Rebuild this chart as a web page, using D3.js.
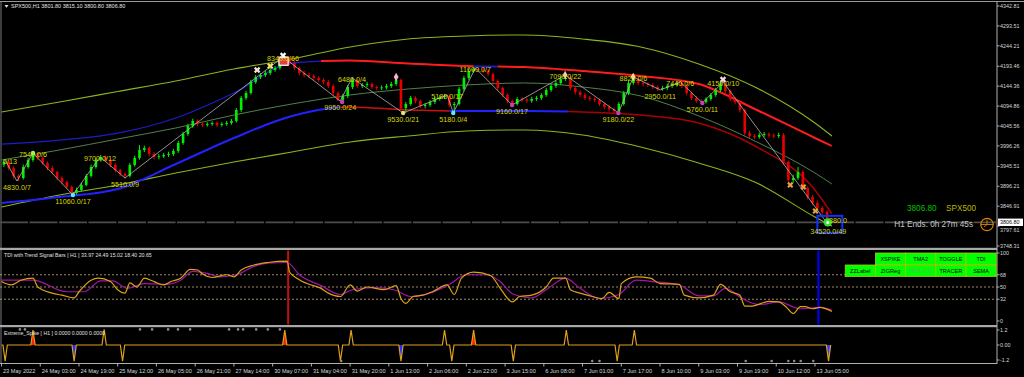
<!DOCTYPE html>
<html><head><meta charset="utf-8">
<script src="https://cdn.jsdelivr.net/npm/d3@7"></script>
<style>body{margin:0;background:#000;overflow:hidden}svg{display:block}text{font-family:"Liberation Sans",Arial,sans-serif}</style>
</head><body><svg id="c" width="1024" height="377"></svg>
<script>
// ---------- DATA ----------
const symbolTitle = "SPX500,H1  3801.80 3815.10 3800.80 3806.80";
const tdiTitle = "TDI with Trend Signal Bars [ H1 ] 33.97 24.49 15.02 18.40 20.65";
const spikeTitle = "Extreme_Spike [ H1 ] 0.0000 0.0000 0.0000";
const lastPrice = 3806.80;
const firstOpen = 3950;
// 2-hour candles (index k sits at hour 2k+1)
const closes = [3956.4,3941.6,3921.8,3916.8,3944.0,3961.4,3976.2,3966.3,3954.0,3941.6,
3931.7,3916.8,3906.9,3894.5,3879.6,3887.1,3899.5,3921.8,3944.0,3961.4,
3968.8,3961.4,3949.0,3936.6,3926.7,3921.8,3949.0,3966.3,3986.2,3991.1,
3976.2,3968.8,3970.5,3973.8,3976.2,3983.7,4003.5,4025.8,4045.6,4058.0,
4050.6,4048.1,4050.6,4053.0,4048.1,4050.6,4053.0,4058.0,4085.2,4115.0,
4127.3,4154.6,4167.0,4171.9,4176.9,4184.3,4189.3,4204.1,4214.0,4201.6,
4189.3,4176.9,4171.9,4169.4,4164.5,4159.5,4154.6,4144.7,4127.3,4110.0,
4119.9,4142.2,4159.5,4144.7,4147.0,4149.5,4142.2,4139.7,4141.0,4144.7,
4149.6,4159.5,4090.2,4100.1,4115.0,4107.5,4095.1,4097.6,4105.0,4112.5,
4117.4,4119.9,4097.6,4100.1,4137.2,4164.5,4181.8,4186.8,4184.3,4182.0,
4174.4,4157.1,4139.7,4122.4,4107.5,4100.1,4112.5,4110.8,4108.0,4112.5,
4115.0,4122.4,4134.8,4144.7,4152.1,4162.0,4164.5,4139.7,4129.8,4122.4,
4115.0,4112.5,4110.0,4100.1,4092.7,4087.7,4082.8,4100.1,4127.3,4152.1,
4162.0,4152.1,4149.6,4147.2,4142.2,4137.2,4139.7,4144.7,4147.2,4152.1,
4144.7,4127.3,4115.0,4107.5,4105.0,4112.5,4122.4,4134.8,4149.6,4132.3,
4112.5,4105.0,4085.2,4028.3,4020.8,4018.4,4023.3,4025.8,4022.0,4020.8,
4023.3,3956.4,3911.8,3916.8,3931.7,3892.0,3869.7,3854.9,3842.5,3832.6,
3806.8];
const highs = [3962,3961,3946,3926,3950,3967,3980,3981,3970,3958,
3947,3935,3921,3911,3898,3893,3905,3927,3950,3966,
3974,3972,3965,3953,3940,3931,3954,3972,3998,3997,
3995,3981,3976,3979,3982,3989,4009,4031,4051,4064,
4062,4055,4055,4057,4057,4055,4058,4063,4090,4120,
4133,4160,4172,4177,4182,4189,4194,4210,4219,4218,
4206,4193,4182,4177,4174,4169,4164,4159,4149,4131,
4125,4147,4166,4163,4152,4155,4153,4146,4146,4150,
4155,4167,4163,4105,4120,4119,4111,4102,4110,4118,
4122,4125,4124,4105,4142,4170,4187,4190,4190,4189,
4186,4178,4161,4143,4126,4111,4117,4117,4115,4118,
4120,4127,4140,4150,4158,4167,4172,4168,4144,4134,
4127,4120,4117,4114,4104,4097,4092,4105,4132,4158,
4167,4165,4157,4154,4151,4146,4145,4150,4152,4157,
4156,4149,4131,4119,4112,4117,4127,4140,4156,4153,
4136,4117,4109,4089,4034,4026,4029,4031,4030,4027,
4029,4028,3960,3925,3944,3936,3896,3874,3860,3847,
3837];
const lows = [3944,3936,3915,3909,3913,3940,3957,3961,3949,3936,
3926,3911,3901,3889,3874,3875,3883,3896,3918,3940,
3957,3956,3944,3931,3921,3915,3918,3945,3962,3981,
3970,3963,3963,3966,3969,3971,3979,3999,4021,4041,
4045,4043,4044,4046,4043,4044,4046,4049,4054,4080,
4110,4123,4150,4162,4167,4172,4180,4185,4199,4196,
4184,4171,4166,4164,4159,4154,4149,4139,4121,4107,
4106,4115,4137,4140,4140,4142,4137,4134,4135,4136,
4140,4145,4085,4078,4096,4102,4090,4089,4093,4100,
4108,4112,4092,4078,4096,4132,4160,4177,4179,4177,
4169,4151,4134,4117,4102,4097,4096,4105,4103,4103,
4108,4110,4118,4130,4140,4147,4157,4134,4124,4117,
4110,4107,4105,4095,4087,4082,4078,4079,4096,4122,
4148,4147,4144,4142,4137,4132,4133,4135,4140,4143,
4139,4122,4110,4103,4100,4101,4108,4118,4130,4127,
4107,4099,4079,4022,4015,4013,4014,4019,4017,4015,
4016,3950,3905,3905,3912,3887,3864,3849,3837,3826,
3799];
// TMA bands sampled every 24 hours
const bandBars   = [0,24,48,72,96,120,144,168,192,216,240,264,288,312,336,343];
const upperOuter = [4080.3,4105.0,4131.0,4157.1,4186.8,4211.6,4241.3,4261.1,4268.5,4271.0,4261.1,4241.3,4199.2,4139.7,4053.0,4020.8];
const upperBand  = [4000.5,4010.4,4027.8,4065.4,4127.3,4201.6,4208.0,4200.5,4194.2,4191.7,4181.8,4169.4,4149.6,4085.2,4015.9,3996.1];
const midLine    = [3961.4,3986.2,4013.4,4040.6,4072.8,4100.1,4122.4,4137.2,4147.2,4152.1,4142.2,4119.9,4070.4,4006.0,3929.2,3901.9];
const lowerBand  = [3854.9,3869.7,3889.5,3951.5,4015.9,4070.4,4092.7,4085.2,4082.8,4082.8,4080.3,4072.8,4053.0,3993.6,3887.1,3827.6];
const lowerOuter = [3845.0,3874.7,3899.5,3929.2,3956.4,3981.2,4005.9,4020.8,4033.2,4035.7,4023.3,3993.6,3954.0,3904.4,3820.2,3797.9];
const upperSegments = [[0,132,"#1c1cc8",1.3],[132,195,"#ff1c1c",2],[195,205,"#1c1cc8",2],[205,343,"#ff1c1c",2]];
const lowerSegments = [[0,140,"#2222ff",2],[140,185,"#d01010",1.5],[185,234,"#2222ff",2],[234,343,"#a80000",1.5]];
// zigzag swings
const zzBars   = [1.4,6.4,13.0,29.5,40.7,51.0,116.3,139.9,144.8,165.9,184.1,186.6,195.7,210.9,232.9,254.8,261.0,272.1,280.4,289.5,298.1,341.5];
const zzPrices = [3961.4,3909.3,3978.7,3874.7,3968.8,3916.8,4216.5,4107.5,4164.5,4077.8,4122.4,4077.8,4189.3,4097.6,4171.9,4077.8,4167.0,4134.8,4154.6,4102.6,4154.6,3800.8];
const zzText   = ["0/13","4830.0/7","7540.0/6","11060.0/17","9700.0/12","5510.0/9","8340.0/66","9950.0/24","6480.0/4","9530.0/21","5180.0/17","5180.0/4","11600.0/7","9160.0/17","7090.0/22","9180.0/22","8820.0/6","2950.0/11","7440.0/6","5760.0/11","4150.0/10","34520.0/49"];
// signal marks
const crossBars = [105.6,111.0,116.3,298.0], crossPrices = [4184.3,4194.2,4220.0,4160.5], crossColors = ["#f4e6d6","#f0e070","#ffffff","#f8d8e8"];
const orangeXBars = [325.8,331.2,336.2], orangeXPrices = [3899.5,3894.5,3835.0];
const diamondBars = [163.0,232.8,260.9], diamondPrices = [4167.0,4171.9,4167.0], diamondColors = ["#ffb0c8","#ffc8b0","#ffe8a0"];
const dotBars = [140.7,210.9,254.8,289.5,29.5,186.6,165.9,13.0], dotPrices = [4105.0,4097.6,4077.8,4102.6,3874.7,4077.8,4077.8,3978.7];
const dotColors = ["#c040c0","#c040c0","#c040c0","#c040c0","#60e8ff","#60e8ff","#e8e070","#80ff80"];
// TDI
const tdiFastBars = [0,4,8,13,15,21,25,30,32,37,40,45,48,51,53,56,59,63,67,70,74,78,81,83,87,93,96,99,104,110,118,119,122,127,132,135,140,144,147,151,158,163,165,167,170,174,178,184,187,190,195,202,206,211,214,219,225,228,233,235,239,244,248,251,255,256,262,268,272,280,282,288,294,297,301,305,307,310,317,321,324,327,330,332,335,338,343];
const tdiFast = [58,53,60,63,50,41,38,34,43,60,63,58,46,41,56,50,63,58,53,58,63,76,75,69,64,68,65,75,82,86,88,72,63,54,48,41,36,53,44,50,46,52,33,26,36,38,43,53,39,63,72,67,48,28,36,38,50,63,63,46,41,36,33,42,33,55,65,63,55,54,38,34,38,54,43,38,22,22,29,28,21,11,21,21,18,20,14];
const tdiSlowBars = [0,13,27,34,41,46,52,59,68,74,79,85,90,97,104,110,118,123,132,140,145,154,162,169,177,185,192,200,206,211,219,225,233,239,247,255,262,269,280,288,294,299,306,313,321,330,338,343];
const tdiSlow = [60,60,43,43,59,59,48,55,54,60,73,70,65,68,80,85,86,68,52,39,46,49,46,36,41,54,68,68,58,40,34,46,63,48,33,39,60,58,53,37,37,48,33,24,28,18,20,16];
const tdiLevels = [68,50,32];
const tdiTicks = [100,68,50,32,0];
const tdiVLineBars = [118.4,337.4], tdiVLineColors = ["#c01010","#0000ff"];
const buttonsRow1 = ["XSPIKE","TMA2","TOGGLE","TDI"];
const buttonsRow2 = ["ZZLabel","ZIGReg","TMA+CG","TRACER","SEMA"];
// Extreme spike
const spikeBars = [1.5,13,30,42.4,50,117,140,144.4,165,183,186,195,211.4,233.3,254.3,261.4,341.6];
const spikeVals = [-1.3,1.2,-1.3,1.25,-1.3,1.2,-1.3,1.2,-1.3,1.2,-1.3,1.2,-1.3,1.2,-1.3,1.2,-1.3];
const spikeFill = ["","#ff2000","#2030ff","","","#ff2000","","","#2030ff","","","#ff2000","","","","","#3040ff"];
const topDotBars = [7.6,9.7,57.2,62.2,68.8,72.9,77.9,94,97.7,99.8,105.2,110,115];
const bottomDotBars = [140.3,244,247,307.4,318.1,325,327.4,330.1,335.3];
const spikeTicks = [1.2,0,-1.2], spikeTickText = ["1.2","0.00","-1.2"];
// axes
const priceTicks = [4342.81,4293.51,4244.21,4193.46,4144.36,4094.86,4045.56,3996.26,3945.51,3896.21,3846.91,3797.61,3748.31];
const timeLabels = ["23 May 2022","24 May 03:00","24 May 19:00","25 May 12:00","26 May 05:00","26 May 21:00","27 May 14:00","30 May 07:00","31 May 04:00","31 May 20:00","1 Jun 13:00","2 Jun 06:00","2 Jun 22:00","3 Jun 15:00","6 Jun 08:00","7 Jun 01:00","7 Jun 17:00","8 Jun 10:00","9 Jun 03:00","9 Jun 19:00","10 Jun 12:00","13 Jun 05:00"];
const hoursPerLabel = 16;

// ---------- DRAW ----------
const AX = 997;
const svg = d3.select("#c");
svg.append("rect").attr("width",1024).attr("height",377).attr("fill","#000");
const x  = d3.scaleLinear().domain([0,342]).range([1.5,829.5]);
const yM = d3.scaleLinear().domain([3748.31,4342.81]).range([246,6]);
const yT = d3.scaleLinear().domain([0,100]).range([321,253]);
const yS = d3.scaleLinear().domain([-1.2,1.2]).range([360,330]);
const defs = svg.append("defs");
function clip(id,x0,y0,w,h){defs.append("clipPath").attr("id",id).append("rect").attr("x",x0).attr("y",y0).attr("width",w).attr("height",h);}
clip("cm",0,2,AX,246); clip("ct",0,250.5,AX,74); clip("cs",0,327.5,AX,35.5);

// frames
const fr = svg.append("g");
fr.append("line").attr("x1",0).attr("x2",1024).attr("y1",1.5).attr("y2",1.5).attr("stroke","#9a9a9a");
fr.append("line").attr("x1",1).attr("x2",1).attr("y1",1.5).attr("y2",364).attr("stroke","#7a7a7a");
fr.append("line").attr("x1",AX).attr("x2",AX).attr("y1",1.5).attr("y2",364).attr("stroke","#b0b0b0");
fr.append("rect").attr("x",0).attr("y",247.8).attr("width",AX).attr("height",2.2).attr("fill","#a8a8a8");
fr.append("rect").attr("x",0).attr("y",325).attr("width",AX).attr("height",2.2).attr("fill","#a8a8a8");
fr.append("line").attr("x1",0).attr("x2",AX).attr("y1",363.5).attr("y2",363.5).attr("stroke","#b0b0b0");

// main panel
const gm = svg.append("g").attr("clip-path","url(#cm)");
gm.append("line").attr("x1",0).attr("x2",AX).attr("y1",yM(lastPrice)).attr("y2",yM(lastPrice))
  .attr("stroke","#4c4c4c").attr("stroke-width",1.6).attr("stroke-dasharray","28,1.5");
const bandLine = arr => d3.line().x((d,i)=>x(bandBars[i])).y(d=>yM(d)).curve(d3.curveMonotoneX)(arr);
gm.append("path").attr("d",bandLine(upperOuter)).attr("fill","none").attr("stroke","#8cb41e").attr("stroke-width",1.1);
gm.append("path").attr("d",bandLine(lowerOuter)).attr("fill","none").attr("stroke","#8cb41e").attr("stroke-width",1.1);
gm.append("path").attr("d",bandLine(midLine)).attr("fill","none").attr("stroke","#4e824a").attr("stroke-width",1);
function segs(arr,list,name){
  list.forEach((s,i)=>{
    const id=name+i;
    defs.append("clipPath").attr("id",id).append("rect").attr("x",x(s[0])).attr("y",0).attr("width",x(s[1])-x(s[0])).attr("height",250);
    gm.append("path").attr("d",bandLine(arr)).attr("fill","none").attr("stroke",s[2]).attr("stroke-width",s[3]).attr("clip-path",`url(#${id})`);
  });
}
segs(upperBand,upperSegments,"us");
segs(lowerBand,lowerSegments,"ls");

// candles
closes.forEach((c,k)=>{
  const o = k ? closes[k-1] : firstOpen;
  const col = c >= o ? "#00f000" : "#e80000";
  const cx = x(2*k+1);
  gm.append("line").attr("x1",cx).attr("x2",cx).attr("y1",yM(highs[k])).attr("y2",yM(lows[k])).attr("stroke",col).attr("stroke-width",1);
  const yt = yM(Math.max(o,c)), yb = yM(Math.min(o,c));
  gm.append("rect").attr("x",cx-1.3).attr("width",2.6).attr("y",yt).attr("height",Math.max(0.8,yb-yt)).attr("fill",col);
});

// zigzag
gm.append("path").attr("d",d3.line().x((d,i)=>x(zzBars[i])).y(d=>yM(d))(zzPrices))
  .attr("fill","none").attr("stroke","#b4b4b4").attr("stroke-width",0.8);

// marks
const sym = (t,s)=>d3.symbol().type(t).size(s)();
dotBars.forEach((b,i)=>gm.append("circle").attr("cx",x(b)).attr("cy",yM(dotPrices[i])).attr("r",2.2).attr("fill",dotColors[i]));
diamondBars.forEach((b,i)=>gm.append("path").attr("d",sym(d3.symbolDiamond,20)).attr("transform",`translate(${x(b)},${yM(diamondPrices[i])})`).attr("fill",diamondColors[i]));
gm.append("rect").attr("x",x(114.6)).attr("y",yM(4216)).attr("width",x(118.4)-x(114.6)).attr("height",yM(4196)-yM(4216))
  .attr("fill","#e04040").attr("stroke","#ffffff").attr("stroke-width",1.2);
crossBars.forEach((b,i)=>gm.append("path").attr("d",sym(d3.symbolCross,26)).attr("transform",`translate(${x(b)},${yM(crossPrices[i])}) rotate(45)`).attr("fill",crossColors[i]));
orangeXBars.forEach((b,i)=>gm.append("path").attr("d",sym(d3.symbolCross,24)).attr("transform",`translate(${x(b)},${yM(orangeXPrices[i])}) rotate(45)`).attr("fill","#e8a040"));
// final bar highlight
gm.append("circle").attr("cx",x(341.3)).attr("cy",yM(lastPrice)).attr("r",4.2).attr("fill","#30e030");
gm.append("circle").attr("cx",x(341.3)).attr("cy",yM(lastPrice)).attr("r",1.6).attr("fill","#e8ffe8");
gm.append("rect").attr("x",x(337)).attr("y",yM(3823)).attr("width",x(347.3)-x(337)).attr("height",yM(3781)-yM(3823))
  .attr("fill","none").attr("stroke","#1030ff").attr("stroke-width",2);

// zigzag labels
const gl = svg.append("g").attr("clip-path","url(#cm)");
zzText.forEach((t,i)=>{
  const isHigh = i%2===0;
  const px = x(zzBars[i]), py = yM(zzPrices[i]);
  gl.append("text").attr("x",i===0?3:px).attr("y",isHigh?py+4:py+9).attr("text-anchor",i===0?"start":"middle")
    .attr("font-size",7.2).attr("fill","#d8d800").text(t);
});
gl.append("text").attr("x",x(345.5)).attr("y",yM(lastPrice)+1).attr("text-anchor","middle").attr("font-size",7.2).attr("fill","#d8d800").text("380.0");

// info texts
svg.append("path").attr("d","M4.5,5 L8.5,5 L6.5,7.8 Z").attr("fill","#e0e0e0");
svg.append("text").attr("x",11).attr("y",8).attr("font-size",5.5).attr("fill","#e4e4e4").text(symbolTitle);
svg.append("text").attr("x",907).attr("y",211).attr("font-size",8.2).attr("fill","#00c000").text(d3.format(".2f")(lastPrice));
svg.append("text").attr("x",946).attr("y",211).attr("font-size",8.2).attr("fill","#b8b800").text("SPX500");
svg.append("text").attr("x",973).attr("y",227).attr("text-anchor","end").attr("font-size",8.2).attr("fill","#c8c8c8").text("H1 Ends: 0h 27m 45s");
const clk = svg.append("g").attr("transform","translate(987,224.5)");
clk.append("circle").attr("r",6.2).attr("fill","none").attr("stroke","#d88000").attr("stroke-width",1.2);
clk.append("path").attr("d","M0,-5 L0,0 L-3,2.5 M-6.2,0 L6.2,0").attr("stroke","#d88000").attr("stroke-width",0.9).attr("fill","none");

// price axis
priceTicks.forEach(p=>{
  const below = Math.abs(p-lastPrice) < 12 ? 3.6 : 0;
  svg.append("line").attr("x1",AX).attr("x2",AX+2.5).attr("y1",yM(p)).attr("y2",yM(p)).attr("stroke","#b0b0b0");
  svg.append("text").attr("x",AX+3).attr("y",yM(p)+2+below).attr("font-size",5.4).attr("fill","#d8d8d8").text(d3.format(".2f")(p));
});
svg.append("rect").attr("x",AX+1).attr("y",yM(lastPrice)-3.8).attr("width",25).attr("height",7.4).attr("fill","#ffffff");
svg.append("text").attr("x",AX+3).attr("y",yM(lastPrice)+2).attr("font-size",5.4).attr("fill","#000").text(d3.format(".2f")(lastPrice));

// TDI panel
const gt = svg.append("g").attr("clip-path","url(#ct)");
tdiLevels.forEach(v=>gt.append("line").attr("x1",0).attr("x2",AX).attr("y1",yT(v)).attr("y2",yT(v))
  .attr("stroke","#c8aa78").attr("stroke-width",0.8).attr("stroke-dasharray","2,2"));
tdiVLineBars.forEach((b,i)=>gt.append("line").attr("x1",x(b)).attr("x2",x(b)).attr("y1",250).attr("y2",325)
  .attr("stroke",tdiVLineColors[i]).attr("stroke-width",2));
gt.append("path").attr("d",d3.line().x((d,i)=>x(tdiSlowBars[i])).y(d=>yT(d)).curve(d3.curveMonotoneX)(tdiSlow))
  .attr("fill","none").attr("stroke","#a414a8").attr("stroke-width",1.2);
gt.append("path").attr("d",d3.line().x((d,i)=>x(tdiFastBars[i])).y(d=>yT(d)).curve(d3.curveMonotoneX)(tdiFast))
  .attr("fill","none").attr("stroke","#dca214").attr("stroke-width",1.2);
svg.append("text").attr("x",4).attr("y",257).attr("font-size",5.2).attr("fill","#e0e0e0").text(tdiTitle);
tdiTicks.forEach(v=>{
  svg.append("line").attr("x1",AX).attr("x2",AX+2.5).attr("y1",yT(v)).attr("y2",yT(v)).attr("stroke","#b0b0b0");
  svg.append("text").attr("x",AX+3).attr("y",yT(v)+2).attr("font-size",5.4).attr("fill","#d8d8d8").text(v);
});
// buttons
const bw = 30.2, bh = 11.6;
function btns(list,x0,y0){
  list.forEach((t,i)=>{
    svg.append("rect").attr("x",x0+i*bw).attr("y",y0).attr("width",bw).attr("height",bh).attr("fill","#00ff00").attr("stroke","#a8c800").attr("stroke-width",0.8);
    svg.append("text").attr("x",x0+i*bw+bw/2).attr("y",y0+bh/2+2).attr("text-anchor","middle").attr("font-size",5.6)
      .attr("fill",t==="TMA+CG"?"#62b262":"#000").text(t);
  });
}
btns(buttonsRow1,875.4,253);
btns(buttonsRow2,845.2,265);

// spike panel
const gs = svg.append("g").attr("clip-path","url(#cs)");
spikeBars.forEach((b,i)=>{
  if(spikeFill[i]) gs.append("path").attr("d",d3.line().x(d=>x(d[0])).y(d=>yS(d[1]))([[b-0.9,0],[b,spikeVals[i]],[b+0.9,0]]))
    .attr("fill",spikeFill[i]);
});
const spk=[[0,0]];
spikeBars.forEach((b,i)=>spk.push([b-0.9,0],[b,spikeVals[i]],[b+0.9,0]));
spk.push([Math.max(342.5,spikeBars[spikeBars.length-1]+0.9),0]);
gs.append("path").attr("d",d3.line().x(d=>x(d[0])).y(d=>yS(d[1]))(spk)).attr("fill","none").attr("stroke","#e0a018").attr("stroke-width",1.2);
topDotBars.forEach(b=>gs.append("circle").attr("cx",x(b)).attr("cy",yS(1.25)).attr("r",1.3).attr("fill","#8c8c8c"));
bottomDotBars.forEach(b=>gs.append("circle").attr("cx",x(b)).attr("cy",yS(-1.28)).attr("r",1.3).attr("fill","#8c8c8c"));
svg.append("text").attr("x",4).attr("y",334.5).attr("font-size",5.2).attr("fill","#e0e0e0").text(spikeTitle);
spikeTicks.forEach((v,i)=>{
  svg.append("line").attr("x1",AX).attr("x2",AX+2.5).attr("y1",yS(v)).attr("y2",yS(v)).attr("stroke","#b0b0b0");
  svg.append("text").attr("x",AX+3).attr("y",yS(v)+2).attr("font-size",5.4).attr("fill","#d8d8d8").text(spikeTickText[i]);
});

// time axis
timeLabels.forEach((t,i)=>{
  const px = x(i*hoursPerLabel);
  svg.append("line").attr("x1",px).attr("x2",px).attr("y1",363.5).attr("y2",366.5).attr("stroke","#b0b0b0");
  svg.append("text").attr("x",px+1.5).attr("y",372.5).attr("font-size",5.6).attr("fill","#d8d8d8").text(t);
});
</script></body></html>
